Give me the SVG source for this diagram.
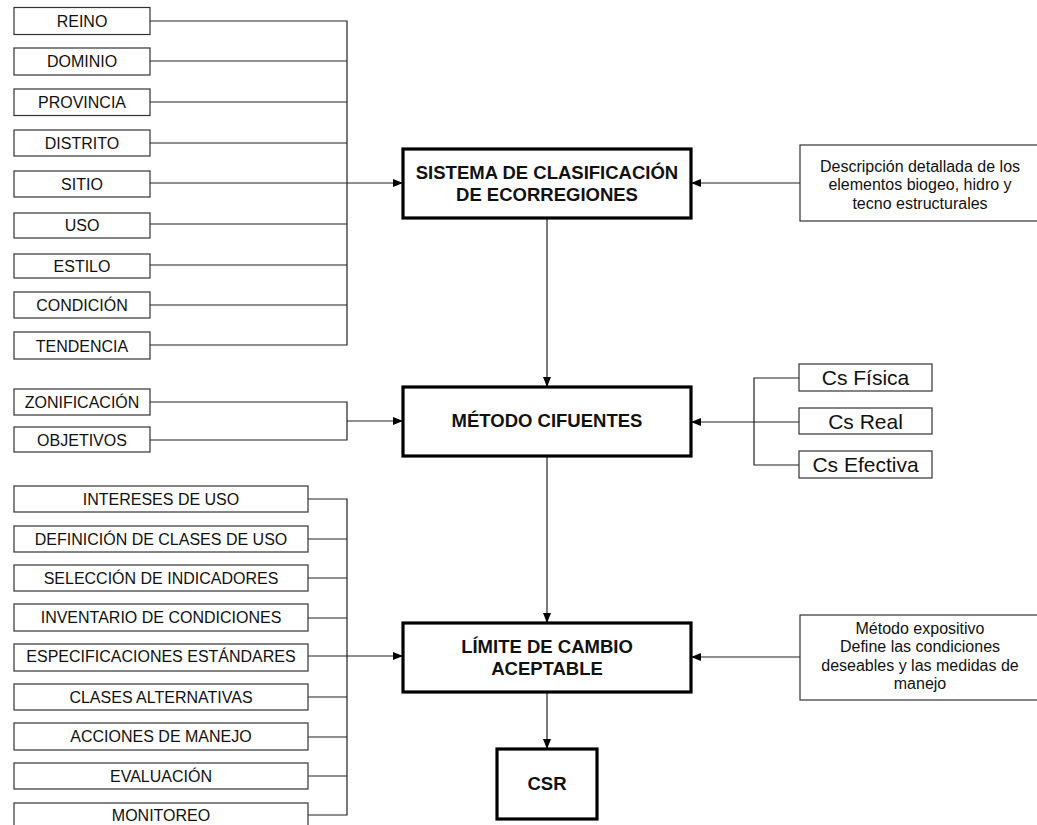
<svg xmlns="http://www.w3.org/2000/svg" width="1037" height="825" viewBox="0 0 1037 825">
  <style>
    .box { fill: #fff; stroke: #333; stroke-width: 1.2; }
    .main { fill: #fff; stroke: #000; stroke-width: 3.2; }
    .lbl { font-family: "Liberation Sans", Arial, sans-serif; font-size: 16px; fill: #111; text-anchor: middle; dominant-baseline: central; }
    .cs { font-family: "Liberation Sans", Arial, sans-serif; font-size: 21px; fill: #111; text-anchor: middle; dominant-baseline: central; }
    .ttl { font-family: "Liberation Sans", Arial, sans-serif; font-size: 18.5px; font-weight: bold; fill: #111; text-anchor: middle; dominant-baseline: central; }
    .wire { fill: none; stroke: #222; stroke-width: 1.2; }
    .arr { fill: none; stroke: #222; stroke-width: 1.2; marker-end: url(#head); }
  </style>
  <defs>
    <marker id="head" viewBox="0 0 10 8" refX="10" refY="4" markerWidth="10" markerHeight="8" markerUnits="userSpaceOnUse" orient="auto">
      <path d="M0,0 L10,4 L0,8 Z" fill="#000"/>
    </marker>
  </defs>
  <rect width="1037" height="825" fill="#fff"/>

  <g id="connectors">
    <!-- classification levels bus -->
    <path class="wire" d="M150,21H347V345H150 M150,61H347 M150,102H347 M150,143H347 M150,224H347 M150,265H347 M150,305H347"/>
    <path class="arr" d="M150,183H403"/>
    <path class="arr" d="M800,183H691"/>
    <path class="arr" d="M547,218V387"/>
    <!-- zoning / objectives -->
    <path class="wire" d="M150,402H347V440H150"/>
    <path class="arr" d="M347,421H403"/>
    <!-- carrying capacity -->
    <path class="wire" d="M799,378H754V465H799"/>
    <path class="arr" d="M799,422H691"/>
    <path class="arr" d="M547,456V623"/>
    <!-- LAC steps bus -->
    <path class="wire" d="M308,499H347V815H308 M308,539H347 M308,578H347 M308,618H347 M308,697H347 M308,737H347 M308,776H347"/>
    <path class="arr" d="M308,656H403"/>
    <path class="arr" d="M800,657H691"/>
    <path class="arr" d="M547,692V749"/>
  </g>

  <g id="reino"><rect class="box" x="14" y="7.5" width="136" height="27"/><text class="lbl" x="82" y="21">REINO</text></g>
  <g id="dominio"><rect class="box" x="14" y="48" width="136" height="27"/><text class="lbl" x="82" y="61.5">DOMINIO</text></g>
  <g id="provincia"><rect class="box" x="14" y="89" width="136" height="26.5"/><text class="lbl" x="82" y="102">PROVINCIA</text></g>
  <g id="distrito"><rect class="box" x="14" y="130" width="136" height="26"/><text class="lbl" x="82" y="143">DISTRITO</text></g>
  <g id="sitio"><rect class="box" x="14" y="171" width="136" height="26"/><text class="lbl" x="82" y="184">SITIO</text></g>
  <g id="uso"><rect class="box" x="14" y="213" width="136" height="25"/><text class="lbl" x="82" y="225">USO</text></g>
  <g id="estilo"><rect class="box" x="14" y="254" width="136" height="24"/><text class="lbl" x="82" y="266">ESTILO</text></g>
  <g id="condicion"><rect class="box" x="14" y="292" width="136" height="26"/><text class="lbl" x="82" y="305">CONDICIÓN</text></g>
  <g id="tendencia"><rect class="box" x="14" y="332" width="136" height="27"/><text class="lbl" x="82" y="346">TENDENCIA</text></g>

  <g id="zonificacion"><rect class="box" x="14" y="389" width="136" height="26"/><text class="lbl" x="82" y="402">ZONIFICACIÓN</text></g>
  <g id="objetivos"><rect class="box" x="14" y="427" width="136" height="25"/><text class="lbl" x="82" y="440">OBJETIVOS</text></g>

  <g id="intereses"><rect class="box" x="14" y="486" width="294" height="26"/><text class="lbl" x="161" y="499">INTERESES DE USO</text></g>
  <g id="definicion"><rect class="box" x="14" y="526" width="294" height="26"/><text class="lbl" x="161" y="539">DEFINICIÓN DE CLASES DE USO</text></g>
  <g id="seleccion"><rect class="box" x="14" y="565" width="294" height="26"/><text class="lbl" x="161" y="578">SELECCIÓN DE INDICADORES</text></g>
  <g id="inventario"><rect class="box" x="14" y="604" width="294" height="27"/><text class="lbl" x="161" y="617.5">INVENTARIO DE CONDICIONES</text></g>
  <g id="especificaciones"><rect class="box" x="14" y="644" width="294" height="27"/><text class="lbl" x="161" y="656.5">ESPECIFICACIONES ESTÁNDARES</text></g>
  <g id="clases"><rect class="box" x="14" y="684" width="294" height="26"/><text class="lbl" x="161" y="697">CLASES ALTERNATIVAS</text></g>
  <g id="acciones"><rect class="box" x="14" y="723" width="294" height="27"/><text class="lbl" x="161" y="736.5">ACCIONES DE MANEJO</text></g>
  <g id="evaluacion"><rect class="box" x="14" y="763" width="294" height="26"/><text class="lbl" x="161" y="776">EVALUACIÓN</text></g>
  <g id="monitoreo"><rect class="box" x="14" y="803" width="294" height="27"/><text class="lbl" x="161" y="815">MONITOREO</text></g>

  <g id="sistema"><rect class="main" x="403" y="149" width="288" height="69"/>
    <text class="ttl" x="547" y="172">SISTEMA DE CLASIFICACIÓN</text>
    <text class="ttl" x="547" y="194">DE ECORREGIONES</text></g>
  <g id="metodo-cifuentes"><rect class="main" x="403" y="387" width="288" height="69"/>
    <text class="ttl" x="547" y="420">MÉTODO CIFUENTES</text></g>
  <g id="lac"><rect class="main" x="403" y="623" width="288" height="69"/>
    <text class="ttl" x="547" y="646">LÍMITE DE CAMBIO</text>
    <text class="ttl" x="547" y="668">ACEPTABLE</text></g>
  <g id="csr"><rect class="main" x="497" y="749" width="100" height="70"/>
    <text class="ttl" x="547" y="783">CSR</text></g>

  <g id="descripcion"><rect class="box" x="800" y="145" width="250" height="76"/>
    <text class="lbl" x="920" y="166">Descripción detallada de los</text>
    <text class="lbl" x="920" y="184.5">elementos biogeo, hidro y</text>
    <text class="lbl" x="920" y="203">tecno estructurales</text></g>

  <g id="cs-fisica"><rect class="box" x="799" y="364" width="133" height="27"/><text class="cs" x="865.5" y="377.5">Cs Física</text></g>
  <g id="cs-real"><rect class="box" x="799" y="408" width="133" height="26"/><text class="cs" x="865.5" y="421">Cs Real</text></g>
  <g id="cs-efectiva"><rect class="box" x="799" y="451" width="133" height="27"/><text class="cs" x="865.5" y="464.5">Cs Efectiva</text></g>

  <g id="expositivo"><rect class="box" x="800" y="615" width="250" height="85"/>
    <text class="lbl" x="920" y="628">Método expositivo</text>
    <text class="lbl" x="920" y="646.5">Define las condiciones</text>
    <text class="lbl" x="920" y="665">deseables y las medidas de</text>
    <text class="lbl" x="920" y="683.5">manejo</text></g>
</svg>
